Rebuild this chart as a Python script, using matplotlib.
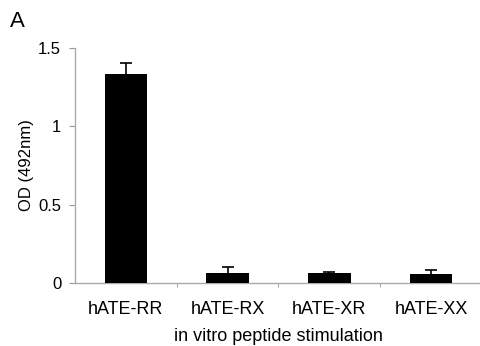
import matplotlib
matplotlib.use("Agg")
import matplotlib.pyplot as plt
import numpy as np

categories = ["hATE-RR", "hATE-RX", "hATE-XR", "hATE-XX"]
values = [1.33, 0.065, 0.062, 0.057]
errors = [0.07, 0.035, 0.01, 0.025]

plt.rcParams['font.family'] = ['Liberation Sans', 'DejaVu Sans']

fig = plt.figure(figsize=(4.81, 3.46), dpi=100)
ax = fig.add_axes([0.156, 0.182, 0.846, 0.680])
x = np.arange(len(categories))
ax.bar(x, values, width=0.42, color='black', yerr=errors,
       error_kw=dict(ecolor='black', capsize=4, elinewidth=1.2, capthick=1.2), zorder=3)
ax.set_xlim(-0.5, 3.5)
ax.set_ylim(0, 1.5)
ax.set_yticks([0, 0.5, 1, 1.5])
ax.set_yticklabels(["0", "0.5", "1", "1.5"])
ax.set_xticks(x)
ax.set_xticklabels(categories, fontsize=13)
ax.set_xticks([0.5, 1.5, 2.5], minor=True)
ax.tick_params(axis='x', which='major', length=0, pad=13)
ax.tick_params(axis='x', which='minor', length=3, color='#999999', direction='out')
ax.tick_params(axis='y', length=4, color='#999999', labelsize=12, pad=6)
for s in ['top', 'right']:
    ax.spines[s].set_visible(False)
for s in ['left', 'bottom']:
    ax.spines[s].set_color('#aaaaaa')
    ax.spines[s].set_linewidth(1)
ax.set_ylabel("OD (492nm)", fontsize=12, labelpad=3)
ax.set_xlabel("in vitro peptide stimulation", fontsize=13, labelpad=7)
fig.text(0.021, 0.922, "A", fontsize=16)
fig.savefig("out.png", dpi=100)
